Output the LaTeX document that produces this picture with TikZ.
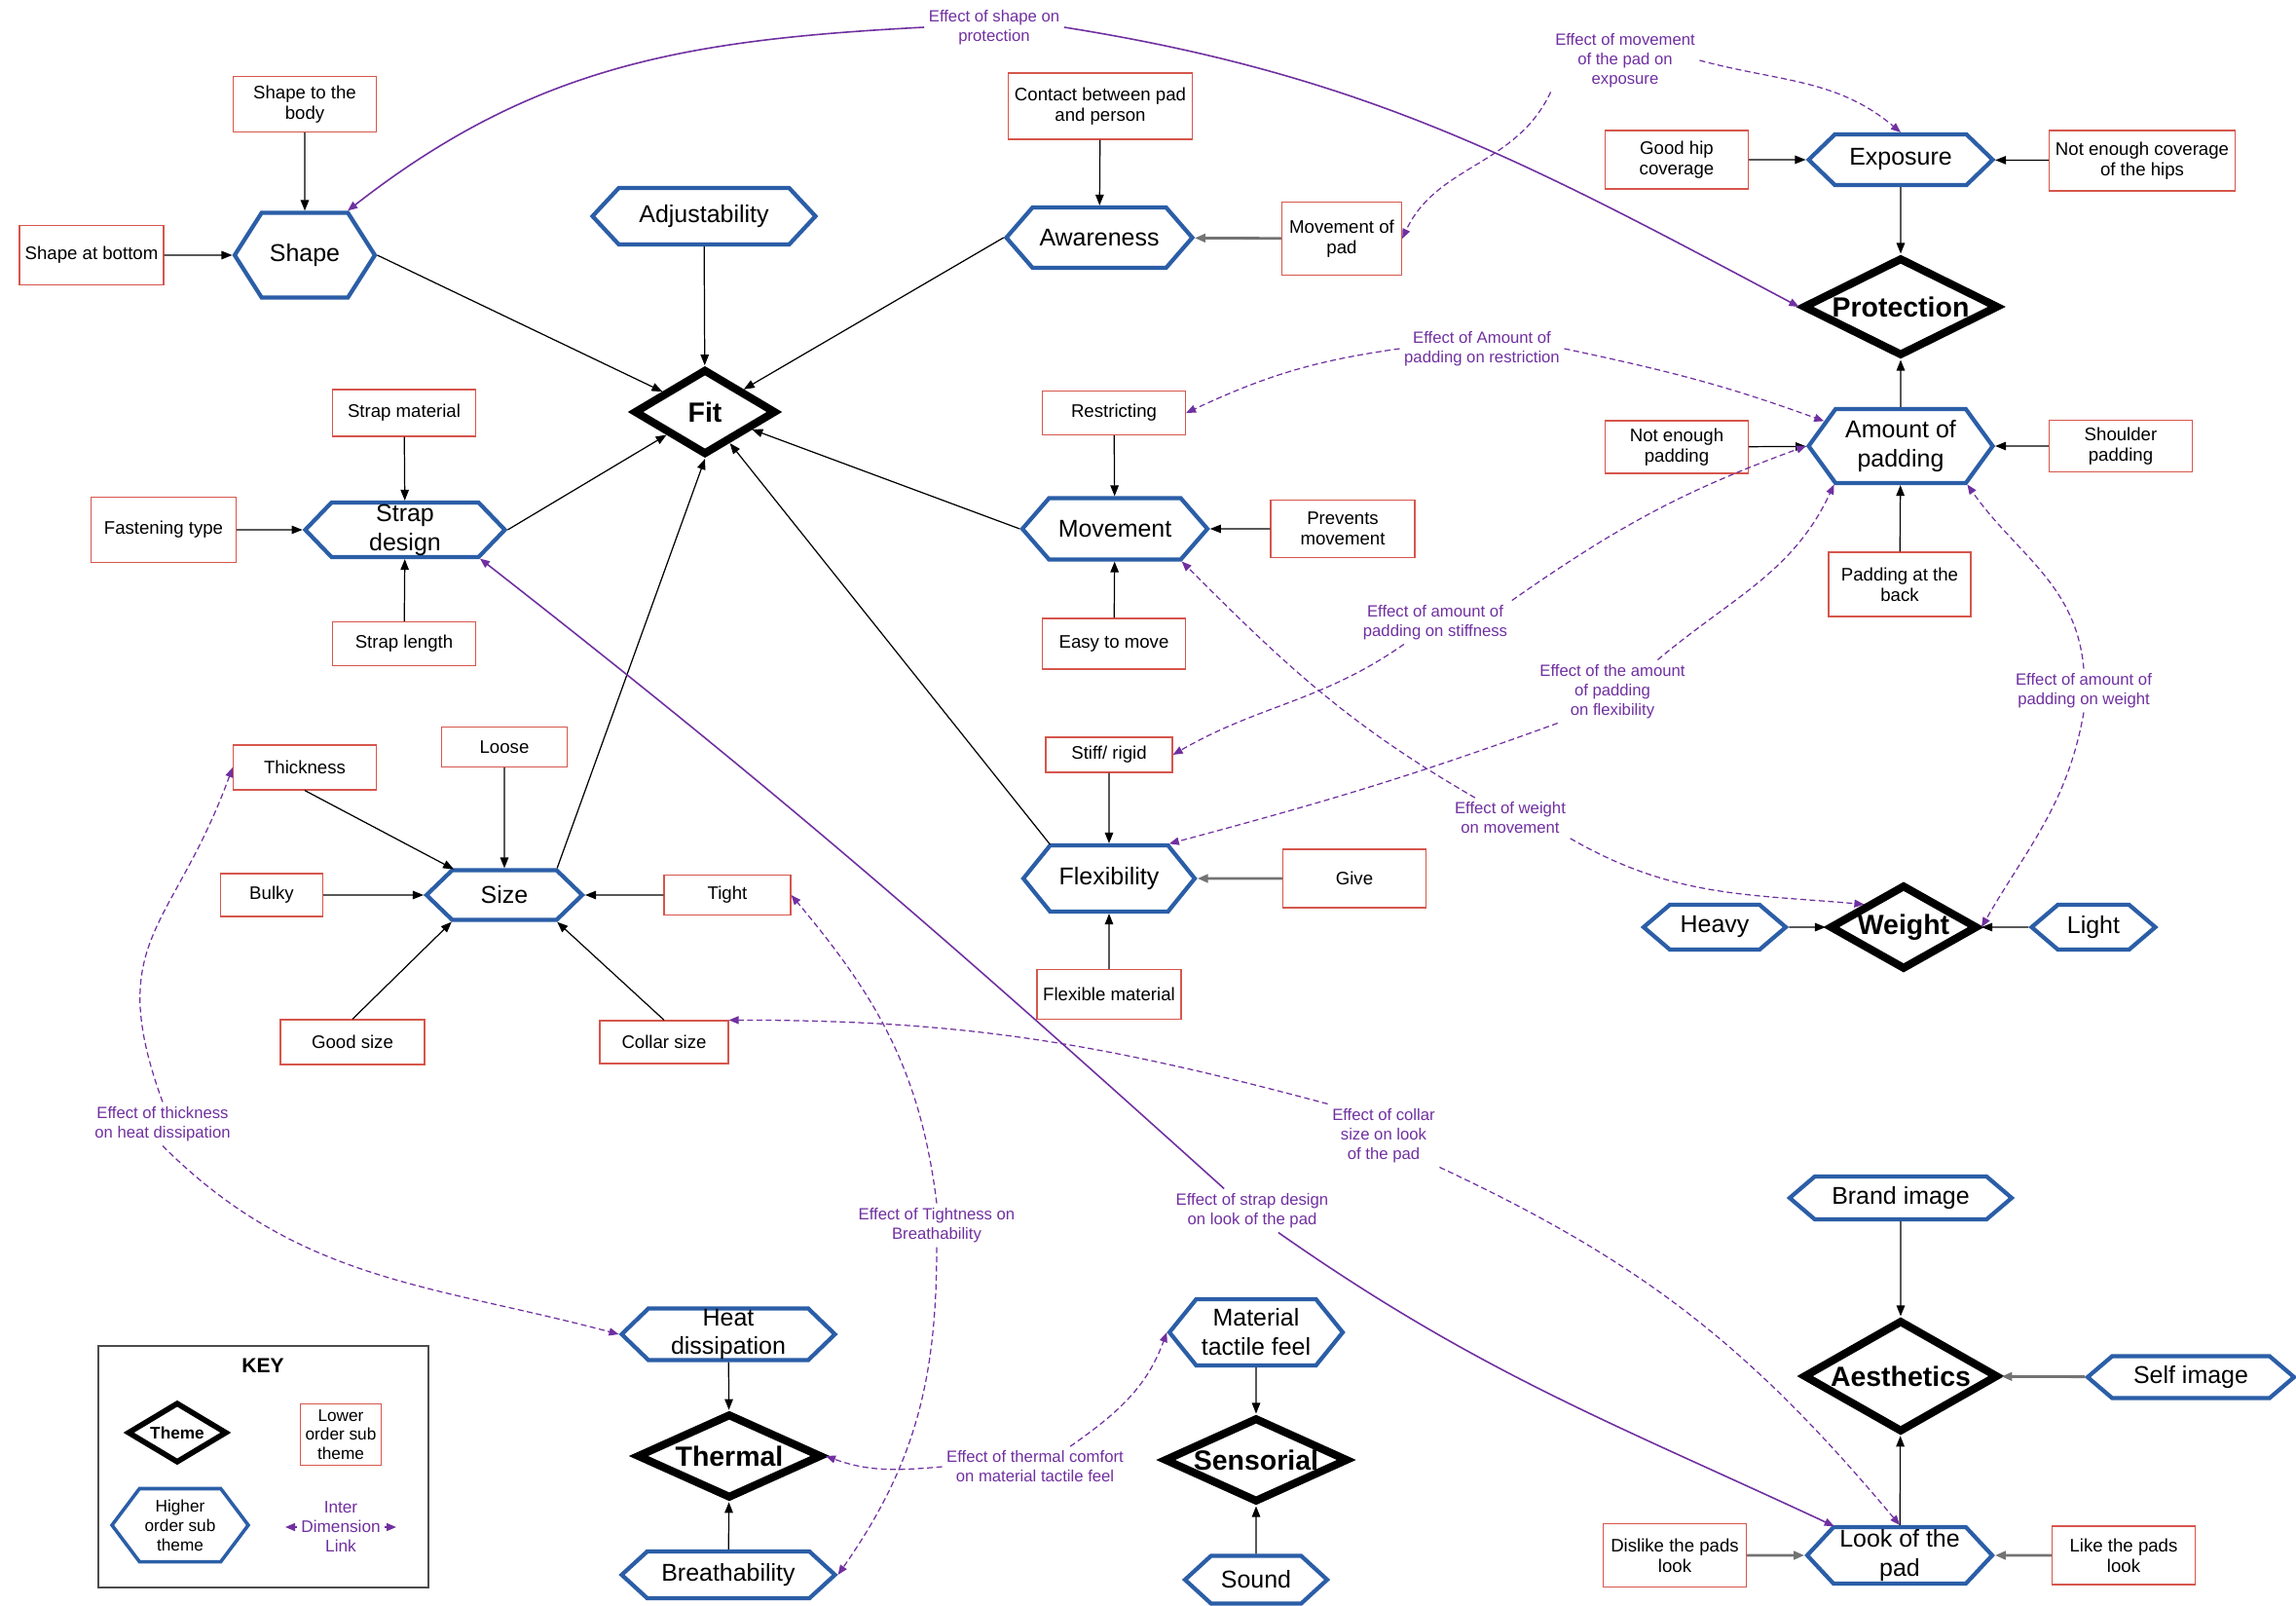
\documentclass[tikz,border=0pt]{standalone}
\usepackage{fontspec}
\setmainfont{Liberation Sans}
\usetikzlibrary{shapes.geometric,shapes.symbols,arrows.meta}
\definecolor{boxred}{RGB}{214,86,76}
\definecolor{hexblue}{RGB}{43,94,167}
\definecolor{linkpurple}{RGB}{112,48,160}

\begin{document}
\begin{tikzpicture}[x=1mm, y=-1mm,
	lowbox/.style={draw=boxred, line width=0.35pt, fill=white, inner sep=0pt, align=center, minimum width=14.7mm, font=\fontsize{5.3}{6}\selectfont},
	hexa/.style={shape=signal, signal to=east and west, signal pointer angle=#1, draw=hexblue, line width=1.2pt, fill=white, inner sep=0pt, align=center, font=\fontsize{7.1}{8.5}\selectfont},
	hexa/.default=94,
	themenode/.style={diamond, aspect=2, draw=black, line width=2.3pt, fill=white, inner sep=0pt, font=\bfseries\fontsize{8.1}{9.7}\selectfont},
	tolink/.style={-{Triangle[length=1.1mm,width=0.85mm]}, line width=0.35pt},
	graylink/.style={tolink, draw=black!55, line width=0.8pt},
	plabel/.style={text=linkpurple, align=center, inner sep=0.4mm, font=\fontsize{4.75}{5.7}\selectfont},
	plink/.style={draw=linkpurple, line width=0.45pt, -{Triangle[length=1mm,width=0.8mm]}},
	pdash/.style={plink, line width=0.35pt, dash pattern=on 0.6mm off 0.35mm}]
	\useasboundingbox (0,0) rectangle (235.8,164.9);

	\node[lowbox, minimum width=14.8mm, minimum height=6.1mm] (shapebot) at (9.4,26.2) {Shape at bottom};
	\node[lowbox, minimum height=5.7mm] (shapebody) at (31.3,10.7) {Shape to the\\body};
	\node[lowbox, minimum height=4.8mm] (strapmat) at (41.5,42.4) {Strap material};
	\node[lowbox, minimum width=14.9mm, minimum height=6.7mm] (fasten) at (16.8,54.4) {Fastening type};
	\node[lowbox, minimum height=4.5mm] (straplen) at (41.5,66.1) {Strap length};
	\node[lowbox, minimum width=18.9mm, minimum height=6.8mm] (contact) at (113.0,10.9) {Contact between pad\\and person};
	\node[lowbox, minimum width=12.3mm, minimum height=7.5mm] (movpad) at (137.8,24.5) {Movement of\\pad};
	\node[lowbox, minimum height=4.5mm] (restrict) at (114.4,42.4) {Restricting};
	\node[lowbox, minimum width=14.8mm, minimum height=5.9mm] (prevents) at (137.9,54.3) {Prevents\\movement};
	\node[lowbox, minimum height=5.2mm] (easy) at (114.4,66.1) {Easy to move};
	\node[lowbox, minimum width=13mm, minimum height=3.6mm] (stiff) at (113.9,77.5) {Stiff/ rigid};
	\node[lowbox, minimum height=6mm] (give) at (139.1,90.2) {Give};
	\node[lowbox, minimum width=14.8mm, minimum height=5.1mm] (flexmat) at (113.9,102.1) {Flexible material};
	\node[lowbox, minimum height=4.6mm] (thick) at (31.3,78.8) {Thickness};
	\node[lowbox, minimum width=12.9mm, minimum height=4.1mm] (loose) at (51.8,76.7) {Loose};
	\node[lowbox, minimum width=10.5mm, minimum height=4.4mm] (bulky) at (27.9,91.9) {Bulky};
	\node[lowbox, minimum width=13mm, minimum height=4.1mm] (tight) at (74.7,91.9) {Tight};
	\node[lowbox, minimum width=14.8mm, minimum height=4.6mm] (goodsize) at (36.2,107.0) {Good size};
	\node[lowbox, minimum width=13.2mm, minimum height=4.4mm] (collar) at (68.2,107.0) {Collar size};
	\node[lowbox, minimum height=6mm] (goodhip) at (172.2,16.4) {Good hip\\coverage};
	\node[lowbox, minimum width=19.1mm, minimum height=6.2mm] (notcov) at (220.0,16.5) {Not enough coverage\\of the hips};
	\node[lowbox, minimum height=5.4mm] (notpad) at (172.2,45.9) {Not enough\\padding};
	\node[lowbox, minimum height=5.3mm] (shoulder) at (217.8,45.8) {Shoulder\\padding};
	\node[lowbox, minimum width=14.6mm, minimum height=6.6mm] (padback) at (195.1,60.0) {Padding at the\\back};
	\node[lowbox, minimum height=6.5mm] (dislike) at (172.0,159.7) {Dislike the pads\\look};
	\node[lowbox, minimum height=6mm] (like) at (218.1,159.7) {Like the pads\\look};

	\node[hexa=115, minimum width=14.4mm, minimum height=8.7mm] (shape) at (31.3,26.2) {Shape};
	\node[hexa=94, minimum width=22.9mm, minimum height=5.8mm] (adjust) at (72.3,22.2) {Adjustability};
	\node[hexa=98, minimum width=19.1mm, minimum height=6.2mm] (aware) at (112.9,24.4) {Awareness};
	\node[hexa=92, minimum width=20.5mm, minimum height=5.6mm] (strap) at (41.6,54.4) {Strap\\design};
	\node[hexa=98, minimum width=19mm, minimum height=6.3mm] (movement) at (114.5,54.3) {Movement};
	\node[hexa=102, minimum width=17.6mm, minimum height=6.8mm] (flex) at (113.9,90.2) {Flexibility};
	\node[hexa=88, minimum width=16mm, minimum height=5.1mm] (size) at (51.8,91.9) {Size};
	\node[hexa=88, minimum width=18.9mm, minimum height=5.2mm] (exposure) at (195.2,16.4) {Exposure};
	\node[hexa=108, minimum width=18.9mm, minimum height=7.6mm] (amount) at (195.2,45.8) {Amount of\\padding};
	\node[hexa=81, minimum width=14.6mm, minimum height=4.6mm] (heavy) at (176.1,95.2) {Heavy};
	\node[hexa=81, minimum width=12.7mm, minimum height=4.6mm] (light) at (215.0,95.2) {Light};
	\node[hexa=88, minimum width=21.9mm, minimum height=5.3mm] (heat) at (74.8,137.0) {Heat\\dissipation};
	\node[hexa=85, minimum width=21.9mm, minimum height=4.8mm] (breath) at (74.8,161.7) {Breathability};
	\node[hexa=102, minimum width=17.8mm, minimum height=6.8mm] (material) at (129.0,136.8) {Material\\tactile feel};
	\node[hexa=85, minimum width=14.6mm, minimum height=4.9mm] (sound) at (129.0,162.2) {Sound};
	\node[hexa=81, minimum width=22.8mm, minimum height=4.4mm] (brand) at (195.2,123.0) {Brand image};
	\node[hexa=81, minimum width=21.2mm, minimum height=4.3mm] (self) at (225.0,141.4) {Self image};
	\node[hexa=94, minimum width=19mm, minimum height=5.8mm] (look) at (195.1,159.7) {Look of the\\pad};

	\node[themenode, minimum width=14.6mm, minimum height=8.8mm] (fit) at (72.4,42.3) {Fit};
	\node[themenode, minimum width=20.1mm, minimum height=10.1mm] (protection) at (195.2,31.5) {Protection};
	\node[themenode, minimum width=15.2mm, minimum height=8.7mm] (weight) at (195.5,95.2) {Weight};
	\node[themenode, minimum width=19mm, minimum height=8.7mm] (thermal) at (74.9,149.5) {Thermal};
	\node[themenode, minimum width=18.9mm, minimum height=8.7mm] (sensorial) at (129.0,149.9) {Sensorial};
	\node[themenode, minimum width=20mm, minimum height=11.5mm] (aesthetics) at (195.2,141.3) {Aesthetics};

	\node[draw=black!70, line width=0.5pt, inner sep=0pt, minimum width=33.9mm, minimum height=24.8mm] (keybox) at (27.05,150.6) {};
	\node[font=\bfseries\fontsize{6}{7}\selectfont] (keytitle) at (27.0,140.2) {KEY};
	\node[themenode, line width=1.6pt, minimum width=10.2mm, minimum height=6.2mm, font=\bfseries\fontsize{4.9}{5.8}\selectfont] (keytheme) at (18.2,147.1) {Theme};
	\node[lowbox, minimum width=8.3mm, minimum height=6.3mm, font=\fontsize{4.9}{5.5}\selectfont] (keylow) at (35.0,147.3) {Lower\\order sub\\theme};
	\node[hexa=106, line width=1pt, minimum width=14mm, minimum height=7.5mm, font=\fontsize{4.9}{5.7}\selectfont] (keyhigh) at (18.5,156.6) {Higher\\order sub\\theme};
	\node[plabel, fill=white, font=\fontsize{4.9}{5.7}\selectfont] (keylink) at (35.0,156.8) {Inter\\Dimension\\Link};
	\coordinate (keyl) at (29.3,156.8);
	\coordinate (keyr) at (40.7,156.8);
	\draw[plink] (keylink.west) -- (keyl);
	\draw[plink] (keylink.east) -- (keyr);

	\node[plabel] (eshape) at (102.1,2.8) {Effect of shape on\\protection};
	\node[plabel] (emove) at (166.9,6.2) {Effect of movement\\of the pad on\\exposure};
	\node[plabel] (erestr) at (152.2,35.8) {Effect of Amount of\\padding on restriction};
	\node[plabel] (estiff) at (147.4,63.9) {Effect of amount of\\padding on stiffness};
	\node[plabel] (eflex) at (165.6,71.0) {Effect of the amount\\of padding\\on flexibility};
	\node[plabel] (eweight) at (155.1,84.0) {Effect of weight\\on movement};
	\node[plabel] (epadw) at (214.0,70.9) {Effect of amount of\\padding on weight};
	\node[plabel] (ethick) at (16.7,115.4) {Effect of thickness\\on heat dissipation};
	\node[plabel] (etight) at (96.2,125.8) {Effect of Tightness on\\Breathability};
	\node[plabel] (ethermal) at (106.3,150.6) {Effect of thermal comfort\\on material tactile feel};
	\node[plabel] (estrap) at (128.6,124.3) {Effect of strap design\\on look of the pad};
	\node[plabel] (ecollar) at (142.1,116.6) {Effect of collar\\size on look\\of the pad};

	\draw[tolink] (shapebot) -- (shape);
	\draw[tolink] (shapebody) -- (shape);
	\draw[tolink] (shape.east) -- (fit);
	\draw[tolink] (adjust) -- (fit);
	\draw[tolink] (aware.west) -- (fit);
	\draw[tolink] (contact) -- (aware);
	\draw[graylink] (movpad) -- (aware);
	\draw[tolink] (strapmat) -- (strap);
	\draw[tolink] (fasten) -- (strap);
	\draw[tolink] (straplen) -- (strap);
	\draw[tolink] (strap.east) -- (fit);
	\draw[tolink] (size.27) -- (fit.south);
	\draw[tolink] (flex.150) -- (fit);
	\draw[tolink] (movement.west) -- (fit);
	\draw[tolink] (restrict) -- (movement);
	\draw[tolink] (prevents) -- (movement);
	\draw[tolink] (easy) -- (movement);
	\draw[tolink] (stiff) -- (flex);
	\draw[graylink] (give) -- (flex);
	\draw[tolink] (flexmat) -- (flex);
	\draw[tolink] (thick.south) -- (size.153);
	\draw[tolink] (loose) -- (size);
	\draw[tolink] (bulky) -- (size);
	\draw[tolink] (tight) -- (size);
	\draw[tolink] (goodsize.north) -- (size.207);
	\draw[tolink] (collar.north) -- (size.333);
	\draw[tolink] (goodhip) -- (exposure);
	\draw[tolink] (notcov) -- (exposure);
	\draw[tolink] (exposure) -- (protection);
	\draw[tolink] (amount) -- (protection);
	\draw[tolink] (notpad) -- (amount);
	\draw[tolink] (shoulder) -- (amount);
	\draw[tolink] (padback) -- (amount);
	\draw[tolink] (heavy) -- (weight);
	\draw[tolink] (light) -- (weight);
	\draw[tolink] (heat) -- (thermal);
	\draw[tolink] (breath) -- (thermal);
	\draw[tolink] (material) -- (sensorial);
	\draw[tolink] (sound) -- (sensorial);
	\draw[tolink] (brand) -- (aesthetics);
	\draw[graylink] (self) -- (aesthetics);
	\draw[tolink] (look) -- (aesthetics);
	\draw[graylink] (dislike) -- (look);
	\draw[graylink] (like) -- (look);

	\draw[plink] (eshape.west) to[out=183, in=38] (shape.46);
	\draw[plink] (eshape.east) to[out=-9, in=152] (protection.west);
	\draw[pdash] (emove.south west) to[out=-115, in=65] (movpad.east);
	\draw[pdash] (emove.east) to[out=-15, in=140] (exposure.north);
	\draw[pdash] (erestr.west) to[out=188, in=25] (restrict.east);
	\draw[pdash] (erestr.east) to[out=-12, in=160] (amount.162);
	\draw[pdash] (estiff.north east) to[out=35, in=200] (amount.west);
	\draw[pdash] (estiff.-145) to[out=-145, in=30] (stiff.east);
	\draw[pdash] (eflex.35) to[out=40, in=245] (amount.210);
	\draw[pdash] (eflex.-150) to[out=200, in=15] (flex.30);
	\draw[pdash] (eweight.150) to[out=150, in=-45] (movement.334);
	\draw[pdash] (eweight.south east) to[out=-30, in=175] (weight.150);
	\draw[pdash] (epadw.north) to[out=95, in=-55] (amount.330);
	\draw[pdash] (epadw.south) to[out=-100, in=60] (weight.east);
	\draw[pdash] (ethick.north) to[out=110, in=250, looseness=1.3] (thick.west);
	\draw[pdash] (ethick.south) to[out=-45, in=165] (heat.west);
	\draw[pdash] (etight.north) to[out=97, in=-50] (tight.east);
	\draw[pdash] (etight.south) to[out=-90, in=55] (breath.east);
	\draw[pdash] (ethermal.west) to[out=185, in=-20] (thermal.east);
	\draw[pdash] (ethermal.30) to[out=35, in=250] (material.west);
	\draw[plink] (estrap.142) to[out=138, in=-38] (strap.339);
	\draw[plink] (estrap.-40) to[out=-35, in=155] (look.156);
	\draw[pdash] (ecollar.north west) to[out=165, in=0] (collar.north east);
	\draw[pdash] (ecollar.south east) to[out=-25, in=130] (look.north);
\end{tikzpicture}
\end{document}
